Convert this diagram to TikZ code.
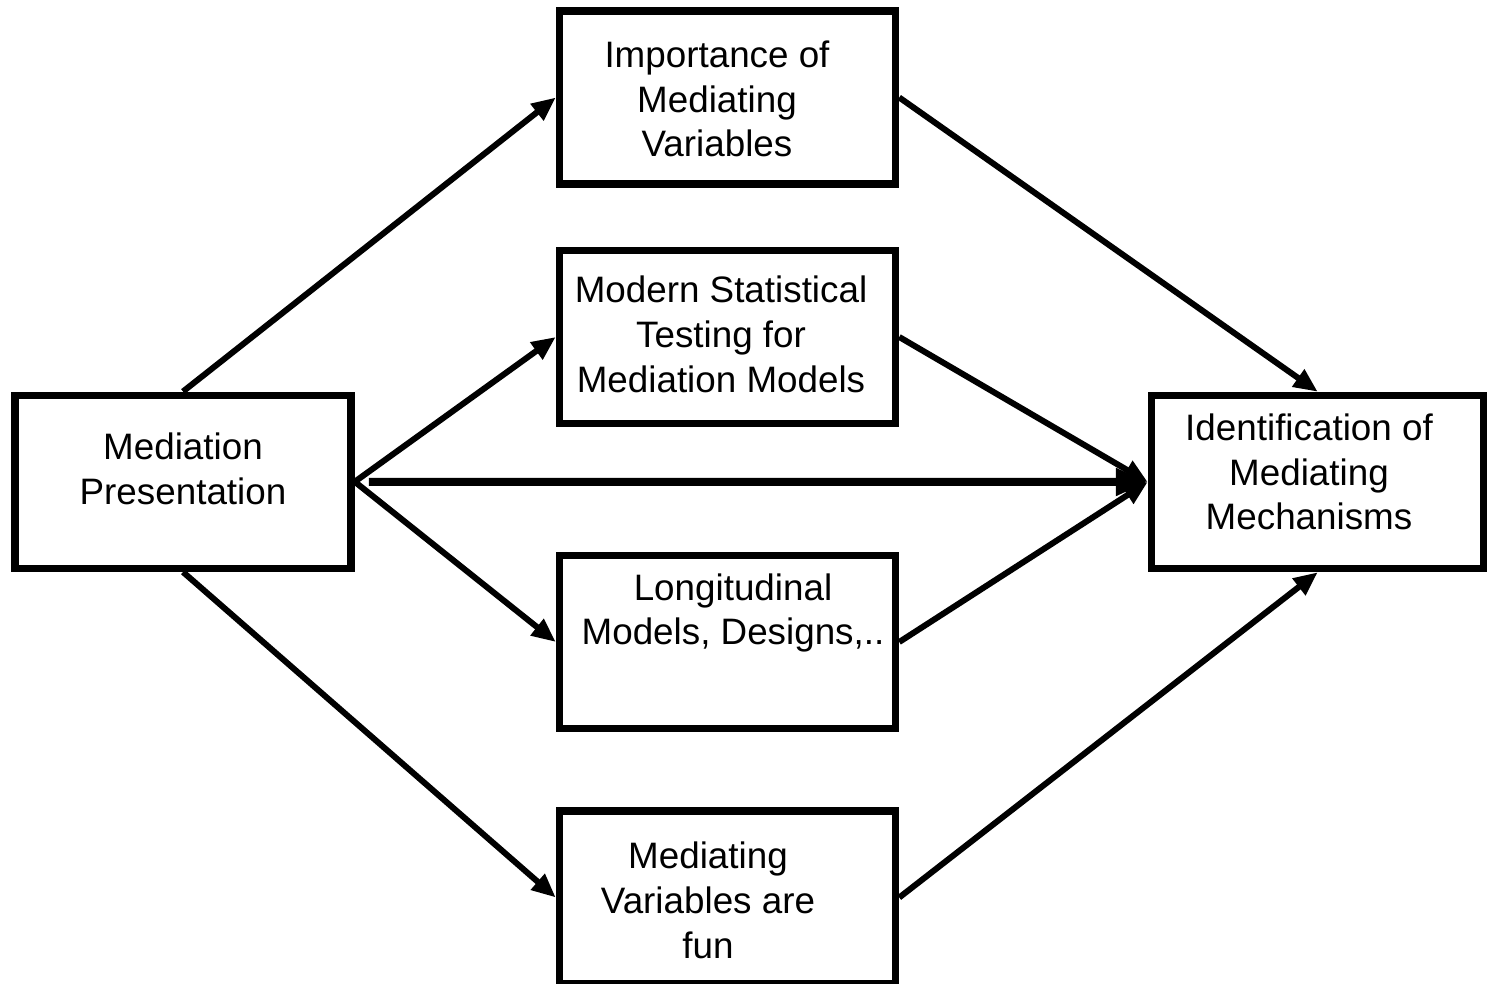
\documentclass[tikz,border=0pt]{standalone}
\usepackage{fontspec}
\setmainfont{Liberation Sans}
\usetikzlibrary{arrows.meta}
\begin{document}
\begin{tikzpicture}[x=0.5pt,y=-0.5pt,
  box/.style={draw, line width=3.75pt, minimum width=168pt, minimum height=86.5pt, inner sep=0pt},
  lbl/.style={font=\fontsize{18.4}{22.4}\selectfont, align=center, inner sep=0pt},
  link/.style={line width=3pt, -{Triangle[length=12pt,width=10pt]}},
  mainlink/.style={line width=4pt, -{Triangle[length=16pt,width=13pt]}}]
\useasboundingbox (0,0) rectangle (1487,984);

% boxes
\node[box] (L) at (183,481.75) {};
\node[box] (I) at (727.5,97.5) {};
\node[box] (M) at (727.5,337) {};
\node[box] (G) at (727.5,642) {};
\node[box] (F) at (727.5,897.5) {};
\node[box, minimum width=166.25pt] (D) at (1317.75,482) {};

% labels
\node[lbl] (tL) at (183,469) {Mediation\\Presentation};
\node[lbl] (tI) at (717,99) {Importance of\\Mediating\\Variables};
\node[lbl] (tM) at (721,334.5) {Modern Statistical\\Testing for\\Mediation Models};
\node[lbl] (tG) at (733,613) {Longitudinal\\Models, Designs,..};
\node[lbl] (tF) at (708,900.5) {Mediating\\Variables are\\fun};
\node[lbl] (tD) at (1309,472) {Identification of\\Mediating\\Mechanisms};

% connectors
\coordinate (hs) at ([xshift=7pt]L.east);
\draw[link] (L.north) -- (I.west);
\draw[link] (L.east) -- (M.west);
\draw[mainlink] (hs) -- (D.west);
\draw[link] (L.east) -- (G.west);
\draw[link] (L.south) -- (F.west);
\draw[link] (I.east) -- (D.north);
\draw[link] (M.east) -- (D.west);
\draw[link] (G.east) -- (D.west);
\draw[link] (F.east) -- (D.south);
\end{tikzpicture}
\end{document}
